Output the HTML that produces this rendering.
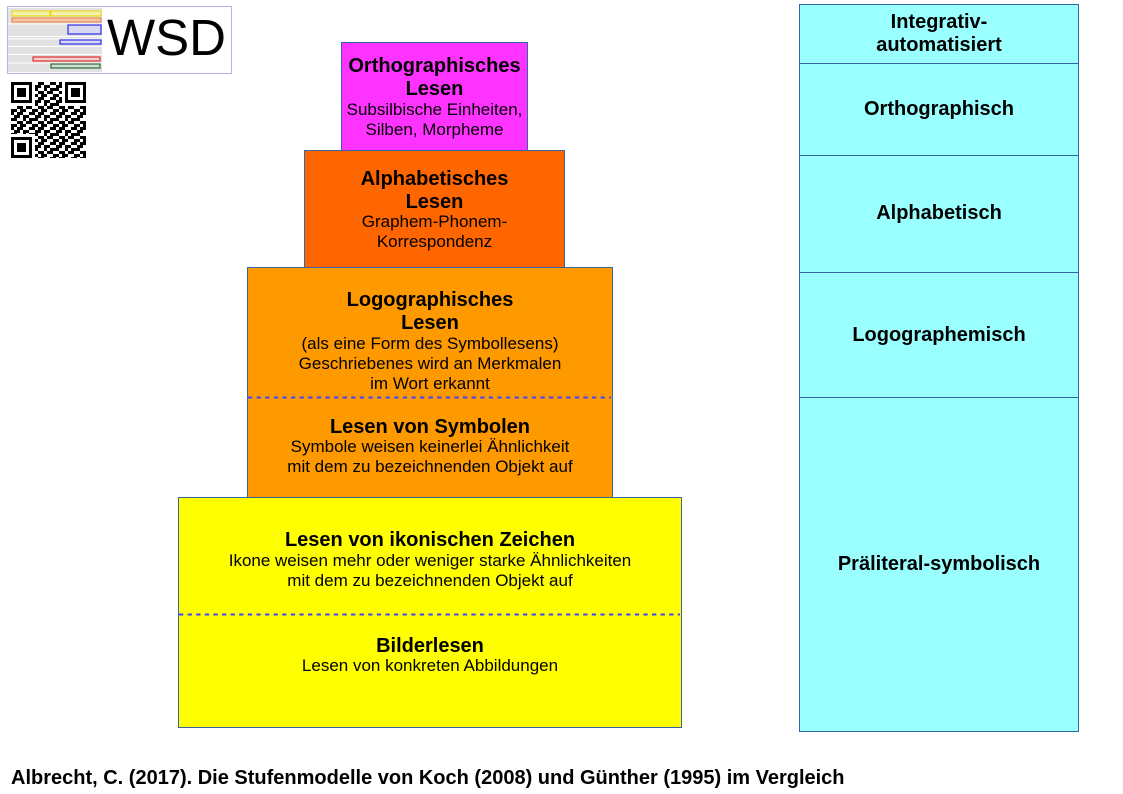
<!DOCTYPE html>
<html>
<head>
<meta charset="utf-8">
<style>
  html,body{margin:0;padding:0;}
  body{width:1123px;height:794px;position:relative;overflow:hidden;background:#fff;font-family:"Liberation Sans",Arial,sans-serif;color:#000;}
  .box{position:absolute;box-sizing:border-box;border:1px solid #3465a4;}
  .t{position:absolute;text-align:center;white-space:nowrap;}
  .b{font-weight:bold;font-size:20px;line-height:24px;}
  .r{font-size:17px;line-height:20px;}
  .hl{position:absolute;height:1px;background:#3465a4;}
</style>
</head>
<body>

<!-- Logo -->
<div style="position:absolute;left:7px;top:6px;width:225px;height:68px;box-sizing:border-box;border:1px solid #b4b4e6;"></div>
<svg style="position:absolute;left:0;top:0" width="110" height="80">
  <rect x="8" y="8" width="94" height="64" fill="#e2e2e2"/>
  <rect x="12" y="11" width="38" height="5" fill="#f4f0b0" stroke="#e6d800" stroke-width="1"/>
  <rect x="51" y="11" width="50" height="5" fill="#f4f0b0" stroke="#e6d800" stroke-width="1"/>
  <rect x="12" y="18" width="89" height="4" fill="#f3c8a8" stroke="#f07a3a" stroke-width="1"/>
  <rect x="8" y="23.5" width="94" height="1" fill="#fff"/>
  <rect x="68" y="25" width="33" height="9" fill="#d8d8f0" stroke="#3a3aee" stroke-width="1.3"/>
  <rect x="8" y="36" width="94" height="1" fill="#fff"/>
  <rect x="8" y="38.5" width="94" height="1" fill="#fff"/>
  <rect x="60" y="40" width="41" height="4" fill="#d8d8f0" stroke="#3a3aee" stroke-width="1.3"/>
  <rect x="8" y="46" width="94" height="1" fill="#fff"/>
  <rect x="8" y="54" width="94" height="1" fill="#fff"/>
  <rect x="33" y="57" width="67" height="4" fill="#f0d0d0" stroke="#e03030" stroke-width="1.2"/>
  <rect x="8" y="62.5" width="94" height="1" fill="#fff"/>
  <rect x="51" y="64" width="49" height="4" fill="#d0e0d0" stroke="#2e6a3a" stroke-width="1.2"/>
</svg>
<div style="position:absolute;left:107px;top:12px;font-size:51px;line-height:51px;white-space:nowrap;">WSD</div>

<!-- QR -->
<svg style="position:absolute;left:11px;top:82px" width="75" height="76">
  <defs>
    <pattern id="p" x="0" y="0" width="21" height="15" patternUnits="userSpaceOnUse">
      <rect x="0" y="0" width="3" height="3" fill="#000"/>
      <rect x="6" y="0" width="6" height="3" fill="#000"/>
      <rect x="18" y="0" width="3" height="3" fill="#000"/>
      <rect x="3" y="3" width="6" height="3" fill="#000"/>
      <rect x="12" y="3" width="6" height="3" fill="#000"/>
      <rect x="0" y="6" width="6" height="3" fill="#000"/>
      <rect x="12" y="6" width="3" height="3" fill="#000"/>
      <rect x="18" y="6" width="3" height="3" fill="#000"/>
      <rect x="6" y="9" width="6" height="3" fill="#000"/>
      <rect x="15" y="9" width="6" height="3" fill="#000"/>
      <rect x="0" y="12" width="6" height="3" fill="#000"/>
      <rect x="9" y="12" width="6" height="3" fill="#000"/>
    </pattern>
  </defs>
  <rect x="0" y="0" width="75" height="76" fill="url(#p)"/>
  <g>
    <rect x="0" y="0" width="24" height="24" fill="#fff"/>
    <rect x="0" y="0" width="21" height="21" fill="#000"/>
    <rect x="3" y="3" width="15" height="15" fill="#fff"/>
    <rect x="6" y="6" width="9" height="9" fill="#000"/>
  </g>
  <g>
    <rect x="51" y="0" width="24" height="24" fill="#fff"/>
    <rect x="54" y="0" width="21" height="21" fill="#000"/>
    <rect x="57" y="3" width="15" height="15" fill="#fff"/>
    <rect x="60" y="6" width="9" height="9" fill="#000"/>
  </g>
  <g>
    <rect x="0" y="52" width="24" height="24" fill="#fff"/>
    <rect x="0" y="55" width="21" height="21" fill="#000"/>
    <rect x="3" y="58" width="15" height="15" fill="#fff"/>
    <rect x="6" y="61" width="9" height="9" fill="#000"/>
  </g>
</svg>

<!-- Pyramid boxes -->
<div class="box" style="left:178px;top:497px;width:504px;height:231px;background:#ffff00;"></div>
<div class="box" style="left:247px;top:267px;width:366px;height:231px;background:#ff9900;"></div>
<div class="box" style="left:304px;top:150px;width:261px;height:118px;background:#ff6600;"></div>
<div class="box" style="left:341px;top:42px;width:187px;height:109px;background:#ff33ff;"></div>

<!-- dashed separators -->
<svg style="position:absolute;left:0;top:0" width="1123" height="794">
  <line x1="248" y1="397.5" x2="611" y2="397.5" stroke="#4040ff" stroke-width="2" stroke-dasharray="4.3 4.3"/>
  <line x1="179" y1="614.5" x2="680" y2="614.5" stroke="#4040ff" stroke-width="2" stroke-dasharray="4.3 4.3"/>
</svg>

<!-- Ortho text -->
<div class="t b" style="left:341px;width:187px;top:53.5px;">Orthographisches</div>
<div class="t b" style="left:341px;width:187px;top:77px;">Lesen</div>
<div class="t r" style="left:341px;width:187px;top:100.3px;">Subsilbische Einheiten,</div>
<div class="t r" style="left:341px;width:187px;top:119.5px;">Silben, Morpheme</div>

<!-- Alph text -->
<div class="t b" style="left:304px;width:261px;top:167px;">Alphabetisches</div>
<div class="t b" style="left:304px;width:261px;top:190.4px;">Lesen</div>
<div class="t r" style="left:304px;width:261px;top:212px;">Graphem-Phonem-</div>
<div class="t r" style="left:304px;width:261px;top:232px;">Korrespondenz</div>

<!-- Logo text -->
<div class="t b" style="left:247px;width:366px;top:288.4px;">Logographisches</div>
<div class="t b" style="left:247px;width:366px;top:311.4px;">Lesen</div>
<div class="t r" style="left:247px;width:366px;top:334px;">(als eine Form des Symbollesens)</div>
<div class="t r" style="left:247px;width:366px;top:354px;">Geschriebenes wird an Merkmalen</div>
<div class="t r" style="left:247px;width:366px;top:374px;">im Wort erkannt</div>

<div class="t b" style="left:247px;width:366px;top:414.7px;">Lesen von Symbolen</div>
<div class="t r" style="left:247px;width:366px;top:437.3px;">Symbole weisen keinerlei Ähnlichkeit</div>
<div class="t r" style="left:247px;width:366px;top:457.3px;">mit dem zu bezeichnenden Objekt auf</div>

<!-- Yellow text -->
<div class="t b" style="left:178px;width:504px;top:528.4px;">Lesen von ikonischen Zeichen</div>
<div class="t r" style="left:178px;width:504px;top:551.3px;">Ikone weisen mehr oder weniger starke Ähnlichkeiten</div>
<div class="t r" style="left:178px;width:504px;top:571.3px;">mit dem zu bezeichnenden Objekt auf</div>

<div class="t b" style="left:178px;width:504px;top:634.4px;">Bilderlesen</div>
<div class="t r" style="left:178px;width:504px;top:656.3px;">Lesen von konkreten Abbildungen</div>

<!-- Right column -->
<div class="box" style="left:799px;top:4px;width:280px;height:728px;background:#99ffff;"></div>
<div class="hl" style="left:799px;width:280px;top:63px;"></div>
<div class="hl" style="left:799px;width:280px;top:155px;"></div>
<div class="hl" style="left:799px;width:280px;top:272px;"></div>
<div class="hl" style="left:799px;width:280px;top:397px;"></div>

<div class="t b" style="left:799px;width:280px;top:10.4px;">Integrativ-</div>
<div class="t b" style="left:799px;width:280px;top:33.1px;">automatisiert</div>
<div class="t b" style="left:799px;width:280px;top:97.2px;">Orthographisch</div>
<div class="t b" style="left:799px;width:280px;top:201.2px;">Alphabetisch</div>
<div class="t b" style="left:799px;width:280px;top:323.4px;">Logographemisch</div>
<div class="t b" style="left:799px;width:280px;top:551.7px;">Präliteral-symbolisch</div>

<!-- Caption -->
<div class="b" style="position:absolute;left:11px;top:766.4px;white-space:nowrap;">Albrecht, C. (2017). Die Stufenmodelle von Koch (2008) und Günther (1995) im Vergleich</div>

</body>
</html>
